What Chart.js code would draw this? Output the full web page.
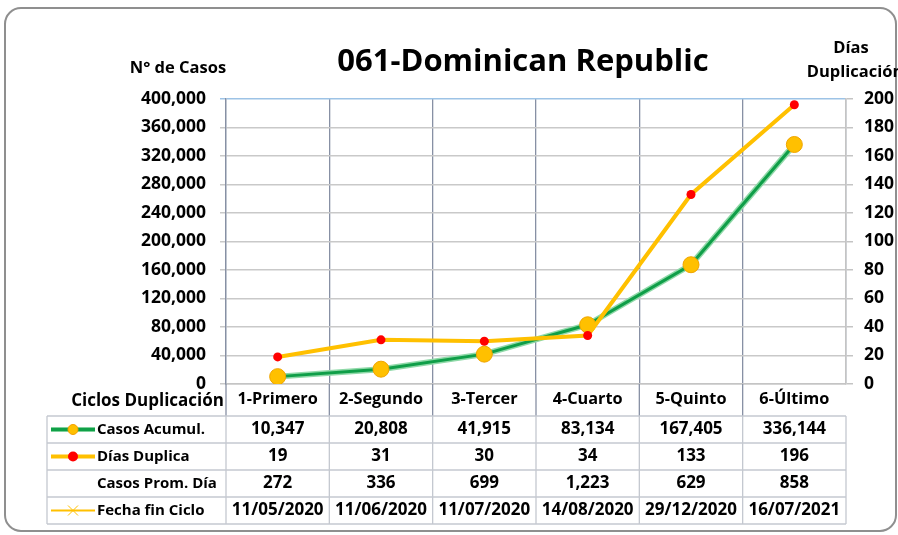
<!DOCTYPE html>
<html>
<head>
<meta charset="utf-8">
<script src="https://cdn.jsdelivr.net/npm/chart.js@4.4.1/dist/chart.umd.min.js"></script>
<style>
    body { margin: 0; background: #fff; }
    #wrap { width: 898px; height: 535px; }
</style>
</head>
<body>
<div id="wrap"><canvas id="grafico" width="898" height="535"></canvas></div>
<script>
// datos del gráfico
const ciclos = ['1-Primero', '2-Segundo', '3-Tercer', '4-Cuarto', '5-Quinto', '6-Último'];
const casosAcumul = [10347, 20808, 41915, 83134, 167405, 336144];
const diasDuplica = [19, 31, 30, 34, 133, 196];
const casosPromDia = [272, 336, 699, 1223, 629, 858];
const fechaFinCiclo = ['11/05/2020', '11/06/2020', '11/07/2020', '14/08/2020', '29/12/2020', '16/07/2021'];
const ejeCasos = { min: 0, max: 400000, paso: 40000 };
const ejeDias = { min: 0, max: 200, paso: 20 };

const FUENTE = '"Open Sans", Lato, sans-serif';
const fmt = (n) => n.toLocaleString('en-US');

// marco, títulos y tabla de datos
const extras = {
    id: 'extras',
    beforeDraw(chart) {
        const c = chart.ctx;
        c.save();
        c.fillStyle = '#fff';
        c.fillRect(0, 0, chart.width, chart.height);
        c.strokeStyle = '#8f8f8f';
        c.lineWidth = 2;
        c.beginPath();
        c.roundRect(5, 8, 891, 523, 16);
        c.stroke();
        c.restore();
    },
    afterDraw(chart) {
        const c = chart.ctx;
        const area = chart.chartArea;
        const x = chart.scales.x;
        const mitad = (x.getPixelForValue(1) - x.getPixelForValue(0)) / 2;
        const bordes = [];
        for (let i = 0; i <= ciclos.length; i++) {
            bordes.push(i < ciclos.length ? x.getPixelForValue(i) - mitad : x.getPixelForValue(i - 1) + mitad);
        }
        const topTabla = area.bottom + 32;
        const altoFila = 27;
        const izq = 47;

        c.save();
        // títulos
        c.fillStyle = '#000';
        c.textAlign = 'center';
        c.textBaseline = 'middle';
        c.font = 'bold 31px ' + FUENTE;
        c.fillText('061-Dominican Republic', 523, 62);
        c.font = 'bold 16.5px ' + FUENTE;
        c.fillText('N° de Casos', 178, 68);
        c.fillText('Días', 851, 48);
        c.fillText('Duplicación', 855, 72);
        c.textAlign = 'right';
        c.font = 'bold 17px ' + FUENTE;
        c.fillText('Ciclos Duplicación', area.left - 2, area.bottom + 17);

        // líneas verticales que bajan hasta la tabla
        c.strokeStyle = '#8790a4';
        c.lineWidth = 1.3;
        bordes.forEach((bx, i) => {
            if (i === bordes.length - 1) return;
            c.beginPath();
            c.moveTo(bx, area.bottom);
            c.lineTo(bx, topTabla);
            c.stroke();
        });

        // cuadrícula de la tabla
        const filas = 4;
        c.strokeStyle = '#c4c8d0';
        c.lineWidth = 1.3;
        for (let r = 0; r <= filas; r++) {
            c.beginPath();
            c.moveTo(izq, topTabla + r * altoFila);
            c.lineTo(bordes[bordes.length - 1], topTabla + r * altoFila);
            c.stroke();
        }
        [izq].concat(bordes).forEach((bx) => {
            c.beginPath();
            c.moveTo(bx, topTabla);
            c.lineTo(bx, topTabla + filas * altoFila);
            c.stroke();
        });

        // contenido
        const filasTexto = [
            { nombre: 'Casos Acumul.', valores: casosAcumul.map(fmt), icono: 'casos' },
            { nombre: 'Días Duplica', valores: diasDuplica.map(fmt), icono: 'dias' },
            { nombre: 'Casos Prom. Día', valores: casosPromDia.map(fmt), icono: null },
            { nombre: 'Fecha fin Ciclo', valores: fechaFinCiclo, icono: 'fecha' }
        ];
        filasTexto.forEach((f, r) => {
            const cy = topTabla + r * altoFila + altoFila / 2;
            c.fillStyle = '#000';
            c.font = 'bold 15px ' + FUENTE;
            c.textAlign = 'left';
            c.fillText(f.nombre, 97, cy);
            c.textAlign = 'center';
            c.font = 'bold 17px ' + FUENTE;
            f.valores.forEach((v, i) => {
                c.fillText(v, (bordes[i] + bordes[i + 1]) / 2, cy);
            });
            // iconos de leyenda
            if (f.icono === 'casos') {
                c.strokeStyle = '#7fd29c';
                c.lineWidth = 5;
                c.beginPath(); c.moveTo(51, cy); c.lineTo(95, cy); c.stroke();
                c.strokeStyle = '#10a048';
                c.lineWidth = 3;
                c.beginPath(); c.moveTo(51, cy); c.lineTo(95, cy); c.stroke();
                c.fillStyle = '#ffc000';
                c.strokeStyle = '#f4a000';
                c.lineWidth = 1;
                c.beginPath(); c.arc(73, cy, 5, 0, Math.PI * 2); c.fill(); c.stroke();
            } else if (f.icono === 'dias') {
                c.strokeStyle = '#ffc000';
                c.lineWidth = 4;
                c.beginPath(); c.moveTo(51, cy); c.lineTo(95, cy); c.stroke();
                c.fillStyle = '#ff0000';
                c.beginPath(); c.arc(73, cy, 5, 0, Math.PI * 2); c.fill();
            } else if (f.icono === 'fecha') {
                c.strokeStyle = '#ffc000';
                c.lineWidth = 2;
                c.beginPath(); c.moveTo(51, cy); c.lineTo(95, cy); c.stroke();
                c.lineWidth = 1;
                c.beginPath();
                c.moveTo(68, cy - 5); c.lineTo(78, cy + 5);
                c.moveTo(78, cy - 5); c.lineTo(68, cy + 5);
                c.stroke();
            }
        });
        c.restore();
    }
};

// sombra clara bajo la línea verde
const sombraVerde = {
    id: 'sombraVerde',
    beforeDatasetDraw(chart, args) {
        if (args.meta.dataset && chart.data.datasets[args.index].label === 'Casos Acumul.') {
            const c = chart.ctx;
            const pts = args.meta.data;
            c.save();
            c.strokeStyle = '#8fd9a8';
            c.lineWidth = 6;
            c.beginPath();
            pts.forEach((p, i) => (i ? c.lineTo(p.x, p.y) : c.moveTo(p.x, p.y)));
            c.stroke();
            c.restore();
        }
    }
};

const ctx = document.getElementById('grafico').getContext('2d');
const grafico = new Chart(ctx, {
    type: 'line',
    data: {
        labels: ciclos,
        datasets: [
            {
                label: 'Días Duplica',
                data: diasDuplica,
                yAxisID: 'y1',
                borderColor: '#ffc000',
                borderWidth: 4,
                pointRadius: 4.5,
                pointBackgroundColor: '#ff0000',
                pointBorderColor: '#ff0000',
                pointBorderWidth: 0,
                tension: 0,
                order: 1
            },
            {
                label: 'Casos Acumul.',
                data: casosAcumul,
                yAxisID: 'y',
                borderColor: '#0f9e48',
                borderWidth: 3,
                pointRadius: 8,
                pointBackgroundColor: '#ffc000',
                pointBorderColor: '#f0a500',
                pointBorderWidth: 1,
                tension: 0,
                order: 2
            }
        ]
    },
    options: {
        responsive: false,
        animation: false,
        devicePixelRatio: 1,
        layout: { padding: { top: 99, left: 0, right: 0, bottom: 0 } },
        plugins: {
            legend: { display: false },
            tooltip: { enabled: false }
        },
        scales: {
            x: {
                offset: true,
                afterFit: (s) => { s.height = 151; },
                grid: { offset: true, color: '#8790a4', lineWidth: 1.3, drawTicks: false },
                border: { color: '#c4c4c4', width: 1.5 },
                ticks: {
                    color: '#000',
                    padding: 6,
                    maxRotation: 0,
                    font: { family: FUENTE, size: 16.3, weight: 'bold' }
                }
            },
            y: {
                position: 'left',
                min: ejeCasos.min,
                max: ejeCasos.max,
                afterFit: (s) => { s.width = 226; },
                grid: {
                    color: (c) => c.tick && c.tick.value === ejeCasos.max ? '#9dc3e6' : '#c9c9c9',
                    lineWidth: 1.5,
                    tickLength: 6
                },
                border: { color: '#8790a4', width: 1.3 },
                ticks: {
                    stepSize: ejeCasos.paso,
                    color: '#000',
                    padding: 14,
                    font: { family: FUENTE, size: 17.5, weight: 'bold' },
                    callback: (v) => fmt(v)
                }
            },
            y1: {
                position: 'right',
                min: ejeDias.min,
                max: ejeDias.max,
                afterFit: (s) => { s.width = 52; },
                grid: { drawOnChartArea: false, color: '#c4c4c4', lineWidth: 1.5, tickLength: 7 },
                border: { color: '#c4c4c4', width: 1.5 },
                ticks: {
                    stepSize: ejeDias.paso,
                    color: '#000',
                    padding: 11,
                    font: { family: FUENTE, size: 17.5, weight: 'bold' }
                }
            }
        }
    },
    plugins: [extras, sombraVerde]
});
</script>
</body>
</html>
